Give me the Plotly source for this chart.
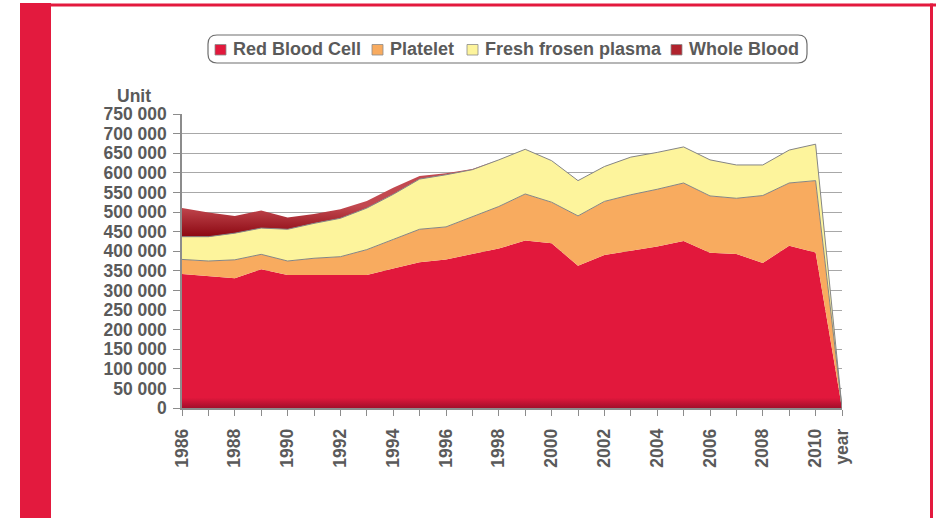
import plotly.graph_objects as go

# ---------------- data (units) ----------------
years = ["1986", "1987", "1988", "1989", "1990", "1991", "1992", "1993", "1994",
         "1995", "1996", "1997", "1998", "1999", "2000", "2001", "2002", "2003",
         "2004", "2005", "2006", "2007", "2008", "2009", "2010", "year"]
red_blood_cell = [342000, 337000, 331000, 354000, 339000, 339000, 339000, 339000, 356000,
                  372000, 379000, 393000, 407000, 427000, 420000, 363000, 390000, 401000,
                  412000, 426000, 396000, 393000, 370000, 414000, 397000, 0]
platelet = [37000, 38000, 47000, 38000, 36000, 43000, 47000, 65000, 74000,
            84000, 83000, 95000, 107000, 119000, 105000, 127000, 137000, 143000,
            146000, 148000, 145000, 142000, 172000, 160000, 183000, 0]
fresh_frozen_plasma = [58000, 62000, 68000, 67000, 81000, 89000, 98000, 106000, 115000,
                       128000, 133000, 120000, 119000, 114000, 106000, 90000, 89000, 96000,
                       94000, 92000, 92000, 85000, 78000, 84000, 93000, 0]
whole_blood = [73000, 62000, 44000, 45000, 30000, 24000, 23000, 18000, 17000,
               8000, 4000, 2000, 0, 0, 0, 0, 0, 0,
               0, 0, 0, 0, 0, 0, 0, 0]
series_names = ["Red Blood Cell", "Platelet", "Fresh frosen plasma", "Whole Blood"]
tick_labels = [y if (i % 2 == 0 or y == "year") else "" for i, y in enumerate(years)]

# ---------------- style ----------------
W, H = 936, 518
L, R, T, B = 182, 842, 114, 408
FONT = "Liberation Sans, Arial, sans-serif"
TXT = "#5a5a5a"
CRIMSON = "#E31A3E"
C_RED = "#E2183C"
C_PLT = "#F8AB5F"
C_FFP = "#FDF49C"
C_WB = "#B0232D"

def px(x):
    return (x - L) / (R - L)

def py(y):
    return (B - y) / (B - T)

xs = list(range(len(years)))
fig = go.Figure()

fig.add_trace(go.Scatter(
    x=xs, y=red_blood_cell, name=series_names[0], stackgroup="one", mode="lines",
    line=dict(width=0, color=C_RED),
    fillgradient=dict(type="vertical",
                      colorscale=[[0, "#A30E2A"], [0.06, C_RED], [1, C_RED]],
                      start=0, stop=440000),
    showlegend=False))
fig.add_trace(go.Scatter(
    x=xs, y=platelet, name=series_names[1], stackgroup="one", mode="lines",
    line=dict(width=1, color="#858585"), fillcolor=C_PLT, showlegend=False))
fig.add_trace(go.Scatter(
    x=xs, y=fresh_frozen_plasma, name=series_names[2], stackgroup="one", mode="lines",
    line=dict(width=1, color="#858585"), fillcolor=C_FFP, showlegend=False))
fig.add_trace(go.Scatter(
    x=xs, y=whole_blood, name=series_names[3], stackgroup="one", mode="lines",
    line=dict(width=0, color=C_WB),
    fillgradient=dict(type="vertical",
                      colorscale=[[0, "#8E0A14"], [1, "#C24950"]],
                      start=440000, stop=515000),
    showlegend=False))

shapes = []
annotations = []

# page frame
shapes.append(dict(type="rect", xref="paper", yref="paper",
                   x0=px(20), x1=px(51), y0=py(3), y1=py(530),
                   fillcolor=CRIMSON, line=dict(width=0), layer="above"))
shapes.append(dict(type="rect", xref="paper", yref="paper",
                   x0=px(51), x1=px(936), y0=py(3.5), y1=py(6.5),
                   fillcolor=CRIMSON, line=dict(width=0), layer="above"))
shapes.append(dict(type="rect", xref="paper", yref="paper",
                   x0=px(930), x1=px(933), y0=py(3.5), y1=py(530),
                   fillcolor=CRIMSON, line=dict(width=0), layer="above"))

# custom legend with rounded box
bx0, bx1, by0, by1, r = 208, 807, 35, 63, 9
path = (f"M {px(bx0 + r)},{py(by0)} L {px(bx1 - r)},{py(by0)} "
        f"Q {px(bx1)},{py(by0)} {px(bx1)},{py(by0 + r)} "
        f"L {px(bx1)},{py(by1 - r)} Q {px(bx1)},{py(by1)} {px(bx1 - r)},{py(by1)} "
        f"L {px(bx0 + r)},{py(by1)} Q {px(bx0)},{py(by1)} {px(bx0)},{py(by1 - r)} "
        f"L {px(bx0)},{py(by0 + r)} Q {px(bx0)},{py(by0)} {px(bx0 + r)},{py(by0)} Z")
shapes.append(dict(type="path", xref="paper", yref="paper", path=path,
                   line=dict(color="#6e6e6e", width=1.2), fillcolor="rgba(0,0,0,0)"))

legend_colors = [C_RED, C_PLT, C_FFP, C_WB]
legend_x = [215, 372, 467, 671]
for name, col, lx in zip(series_names, legend_colors, legend_x):
    shapes.append(dict(type="rect", xref="paper", yref="paper",
                       x0=px(lx), x1=px(lx + 11), y0=py(44.5), y1=py(55),
                       fillcolor=col, line=dict(color="#8a8a8a", width=0.8)))
    annotations.append(dict(xref="paper", yref="paper", x=px(lx + 16), y=py(49.5),
                            text=name, showarrow=False, xanchor="left", yanchor="middle",
                            font=dict(family=FONT, size=18, color=TXT, weight="bold")))

annotations.append(dict(xref="paper", yref="paper", x=px(134), y=py(96),
                        text="Unit", showarrow=False, xanchor="center", yanchor="middle",
                        font=dict(family=FONT, size=17.5, color=TXT, weight="bold")))

fig.update_layout(
    width=W, height=H,
    margin=dict(l=L, r=W - R, t=T, b=H - B, pad=0),
    paper_bgcolor="white", plot_bgcolor="white",
    separators=". ",
    showlegend=False,
    shapes=shapes, annotations=annotations,
    xaxis=dict(range=[0, len(years) - 1], tickmode="array", tickvals=xs,
               ticktext=tick_labels, tickangle=-90, ticks="outside", ticklen=6,
               ticklabelstandoff=6,
               tickcolor="#8c8c8c", showline=True, linecolor="#8c8c8c", linewidth=1.5,
               showgrid=False, zeroline=False,
               tickfont=dict(family=FONT, size=17.5, color=TXT, weight="bold")),
    yaxis=dict(range=[0, 750000], dtick=50000, tickformat=",d", ticks="outside",
               ticklen=7, ticklabelstandoff=3, tickcolor="#8c8c8c", showline=True,
               linecolor="#8c8c8c",
               linewidth=1.5, showgrid=True, gridcolor="#a8a8a8", gridwidth=1.3,
               zeroline=False,
               tickfont=dict(family=FONT, size=17.5, color=TXT, weight="bold")),
)

fig.write_html(
    "out.html",
    config={"displayModeBar": False},
    post_script="document.body.style.margin='0';document.body.style.overflow='hidden';",
)
